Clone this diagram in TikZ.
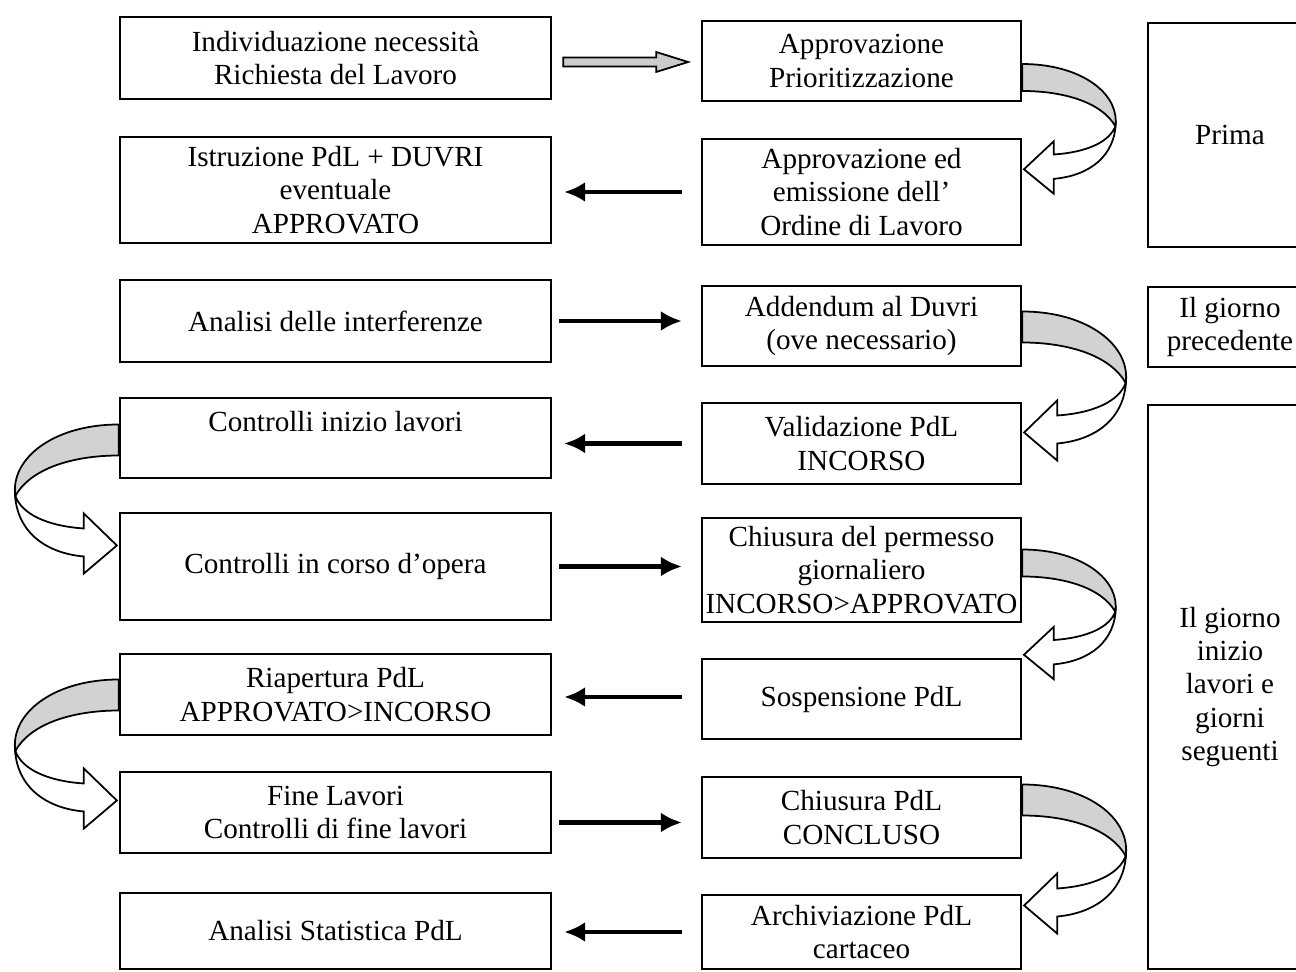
\documentclass[tikz,border=0pt]{standalone}
\usepackage{fontspec}
\setmainfont{Liberation Serif}
\usetikzlibrary{arrows.meta,calc}
\newcommand\mybox[6]{%
  \node[box, minimum width={(#4-#2)*0.02cm}, minimum height={(#5-#3)*0.02cm}] (#1) at ({(#2+#4)/2},{(#3+#5)/2}) {#6};}
\begin{document}
\begin{tikzpicture}[x=0.02cm,y=-0.02cm,
  box/.style={draw, line width=1.3pt, inner sep=0pt, align=center, font=\fontsize{16.6pt}{19pt}\selectfont},
  harr/.style={line width=2.6pt, -{Latex[length=0.42cm,width=0.4cm]}},
  uturn/.pic={
    \draw[line width=1pt, fill=white] (103.5,56) .. controls (97,74) and (72,86) .. (35,88.5) -- (35,73.5) -- (2,105.5) -- (35,133.5) -- (35,116.5) .. controls (75,113) and (104,90) .. (104,50) -- cycle;
    \draw[line width=1pt, fill=gray!35] (0,-15.5) .. controls (62,-15.5) and (104,15) .. (104,50) -- (103.5,56) .. controls (88,28) and (45,15.5) .. (0,15.5) -- cycle;
  },
  fatarrow/.pic={
    \draw[line width=1pt, fill=gray!40] (0,-4.5) -- (93,-4.5) -- (93,-10) -- (125,0) -- (93,10) -- (93,4.5) -- (0,4.5) -- cycle;
  }
]
\useasboundingbox (0,0) rectangle (1296,972);
\clip (0,0) rectangle (1296,972);

% left column
\mybox{l1}{120}{17}{551}{99}{Individuazione necessità\\Richiesta del Lavoro}
\mybox{l2}{120}{137}{551}{243}{Istruzione PdL + DUVRI\\eventuale\\APPROVATO}
\mybox{l3}{120}{280}{551}{362}{Analisi delle interferenze}
\mybox{l4}{120}{398}{551}{478}{Controlli inizio lavori\\\phantom{X}}
\mybox{l5}{120}{513}{551}{620}{Controlli in corso d’opera}
\mybox{l6}{120}{654}{551}{735}{Riapertura PdL\\APPROVATO>INCORSO}
\mybox{l7}{120}{772}{551}{853}{Fine Lavori\\Controlli di fine lavori}
\mybox{l8}{120}{893}{551}{969}{Analisi Statistica PdL}

% right column
\mybox{r1}{702}{21}{1021}{101}{Approvazione\\Prioritizzazione}
\mybox{r2}{702}{139}{1021}{245}{Approvazione ed\\emissione dell’\\Ordine di Lavoro}
\mybox{r3}{702}{286}{1021}{366}{Addendum al Duvri\\(ove necessario)}
\mybox{r4}{702}{403}{1021}{484}{Validazione PdL\\INCORSO}
\mybox{r5}{702}{518}{1021}{622}{Chiusura del permesso\\giornaliero\\INCORSO>APPROVATO}
\mybox{r6}{702}{659}{1021}{739}{Sospensione PdL}
\mybox{r7}{702}{777}{1021}{858}{Chiusura PdL\\CONCLUSO}
\mybox{r8}{702}{895}{1021}{969}{Archiviazione PdL\\cartaceo}

% side column
\mybox{s1}{1148}{23}{1312}{247}{Prima}
\mybox{s2}{1148}{287}{1312}{367}{Il giorno\\precedente}
\mybox{s3}{1148}{405}{1312}{969}{Il giorno\\inizio\\lavori e\\giorni\\seguenti}

% straight arrows
\pic at ($(l1.east)+(11,4)$) {fatarrow};
\draw[harr] ([xshift=-0.38cm]r2.west) -- ([xshift=0.24cm]r2.west -| l2.east);
\draw[harr] ([xshift=0.14cm]l3.east) -- ([xshift=-0.38cm]l3.east -| r3.west);
\draw[harr] ([xshift=-0.38cm]r4.west) -- ([xshift=0.24cm]r4.west -| l4.east);
\draw[harr] ([xshift=0.14cm]l5.east) -- ([xshift=-0.38cm]l5.east -| r5.west);
\draw[harr] ([xshift=-0.38cm,yshift=0.04cm]r6.west) -- ([xshift=0.24cm,yshift=0.04cm]r6.west -| l6.east);
\draw[harr] ([xshift=0.14cm,yshift=-0.1cm]r7.west -| l7.east) -- ([xshift=-0.38cm,yshift=-0.1cm]r7.west);
\draw[harr] ([xshift=-0.38cm]r8.west) -- ([xshift=0.24cm]r8.west -| l8.east);

% U-turn arrows
\pic[xscale=0.9,yscale=0.87] at ($(r1.east)+(0,16.5)$) {uturn};
\pic at ($(r3.east)+(0,1)$) {uturn};
\pic[xscale=0.9,yscale=0.87] at ($(r5.east)+(0,-7)$) {uturn};
\pic at ($(r7.east)+(0,-17.5)$) {uturn};
\pic[xscale=-1] at ($(l4.west)+(0,2)$) {uturn};
\pic[xscale=-1] at ($(l6.west)+(0,0.5)$) {uturn};
\end{tikzpicture}
\end{document}
